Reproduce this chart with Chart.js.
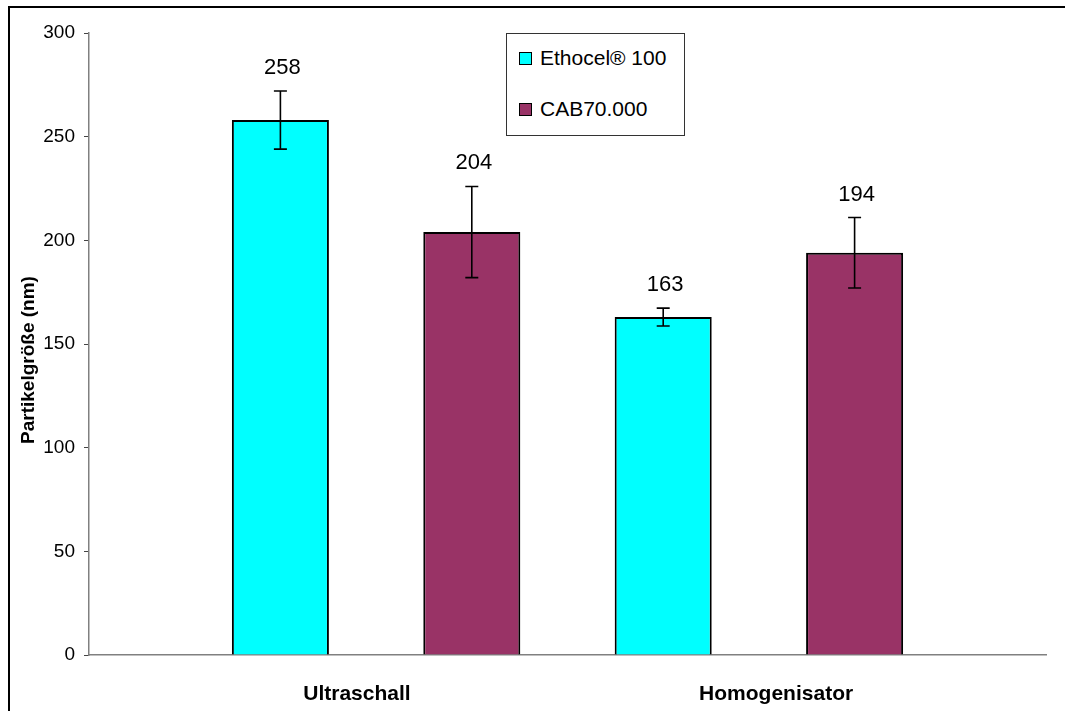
<!DOCTYPE html>
<html>
<head>
<meta charset="utf-8">
<script src="https://cdn.jsdelivr.net/npm/chart.js@4"></script>
<style>
    body { margin: 0; background: #fff; overflow: hidden; }
    #wrap { position: relative; width: 1065px; height: 711px; }
    #frame {
        position: absolute; left: 8px; top: 6px; width: 2000px; height: 2000px;
        border-left: 2px solid #000; border-top: 2px solid #000;
    }
    #legend {
        position: absolute; left: 506px; top: 33px; width: 177px; height: 101px;
        border: 1px solid #333; background: #fff;
        font-family: Arial, "Liberation Sans", sans-serif; font-size: 21px; color: #000;
    }
    .item { position: absolute; left: 12px; display: flex; align-items: center; }
    .box { width: 11px; height: 11px; border: 1px solid #000; margin-right: 8px; }
</style>
</head>
<body>
<div id="wrap">
    <div id="frame"></div>
    <canvas id="sizeChart"></canvas>
    <div id="legend"></div>
</div>
<script>
// ================= DATA =================
const groups = ["Ultraschall", "Homogenisator"];
const seriesNames = ["Ethocel® 100", "CAB70.000"];
const seriesColors = ["#00FFFF", "#993366"];
const ethocelValues = [258, 163];
const ethocelErrors = [14, 4.3];
const cabValues = [204, 194];
const cabErrors = [22, 17];
const yTicks = [0, 50, 100, 150, 200, 250, 300];
const yTitle = "Partikelgröße (nm)";

const FONT = 'Arial, "Liberation Sans", sans-serif';

// bars sit at 1..4 on a 0..5 axis, group labels a bit off-centre like the original
const groupLabelPos = [1.4, 3.59];

function toPoints(values, offset) {
    return values.map((v, i) => ({ x: i * 2 + offset, y: v }));
}

const errors = [ethocelErrors, cabErrors];

// ================= ERROR BARS + VALUE LABELS =================
const errorBarPlugin = {
    id: "errorBars",
    afterDatasetsDraw(chart) {
        const ctx = chart.ctx;
        const y = chart.scales.y;
        ctx.save();
        chart.data.datasets.forEach((ds, di) => {
            const meta = chart.getDatasetMeta(di);
            meta.data.forEach((bar, i) => {
                const v = ds.data[i].y;
                const e = errors[di][i];
                const top = y.getPixelForValue(v + e);
                const bottom = y.getPixelForValue(v - e);
                ctx.strokeStyle = "#000";
                ctx.lineWidth = 1.6;
                ctx.beginPath();
                ctx.moveTo(bar.x, top);
                ctx.lineTo(bar.x, bottom);
                ctx.moveTo(bar.x - 6.5, top);
                ctx.lineTo(bar.x + 6.5, top);
                ctx.moveTo(bar.x - 6.5, bottom);
                ctx.lineTo(bar.x + 6.5, bottom);
                ctx.stroke();

                ctx.fillStyle = "#000";
                ctx.font = "22px " + FONT;
                ctx.textAlign = "center";
                ctx.textBaseline = "middle";
                ctx.fillText(String(v), bar.x + 2, top - 23);
            });
        });

        // y axis title, sitting a little below the axis middle as in the original
        ctx.translate(29, 360);
        ctx.rotate(-Math.PI / 2);
        ctx.font = "bold 19px " + FONT;
        ctx.textAlign = "center";
        ctx.textBaseline = "middle";
        ctx.fillText(yTitle, 0, 0);
        ctx.restore();
    }
};

// ================= CHART =================
new Chart(document.getElementById("sizeChart"), {
    type: "bar",
    data: {
        datasets: [
            {
                label: seriesNames[0],
                data: toPoints(ethocelValues, 1),
                backgroundColor: seriesColors[0],
                borderColor: "#000",
                borderWidth: 2
            },
            {
                label: seriesNames[1],
                data: toPoints(cabValues, 2),
                backgroundColor: seriesColors[1],
                borderColor: "#000",
                borderWidth: 2
            }
        ]
    },
    options: {
        responsive: true,
        maintainAspectRatio: false,
        animation: false,
        layout: { padding: { top: 33, right: 19, left: 0, bottom: 0 } },
        datasets: {
            bar: { grouped: false, barPercentage: 0.507, categoryPercentage: 1 }
        },
        plugins: {
            legend: { display: false },
            tooltip: { enabled: false }
        },
        scales: {
            x: {
                type: "linear",
                min: 0,
                max: 5,
                offset: false,
                afterFit: s => { s.height = 56; },
                afterBuildTicks: s => { s.ticks = groupLabelPos.map(p => ({ value: p })); },
                ticks: {
                    autoSkip: false,
                    maxRotation: 0,
                    padding: 19,
                    color: "#000",
                    font: { family: FONT, size: 21, weight: "bold" },
                    callback: (value, index) => groups[index]
                },
                grid: { display: false, offset: false },
                border: { display: true, color: "#808080", width: 1.5 }
            },
            y: {
                min: 0,
                max: 300,
                afterFit: s => { s.width = 89; },
                afterBuildTicks: s => { s.ticks = yTicks.map(v => ({ value: v })); },
                ticks: {
                    padding: 9,
                    color: "#000",
                    font: { family: FONT, size: 19 }
                },
                grid: {
                    drawOnChartArea: false,
                    drawTicks: true,
                    tickLength: 5,
                    color: "#444"
                },
                border: { display: true, color: "#808080", width: 1.5 }
            }
        }
    },
    plugins: [errorBarPlugin]
});

// ================= LEGEND =================
const legend = document.getElementById("legend");
seriesNames.forEach((name, i) => {
    const item = document.createElement("div");
    item.className = "item";
    item.style.top = (i === 0 ? 12 : 63) + "px";
    const box = document.createElement("span");
    box.className = "box";
    box.style.background = seriesColors[i];
    const label = document.createElement("span");
    label.textContent = name;
    item.appendChild(box);
    item.appendChild(label);
    legend.appendChild(item);
});
</script>
</body>
</html>
